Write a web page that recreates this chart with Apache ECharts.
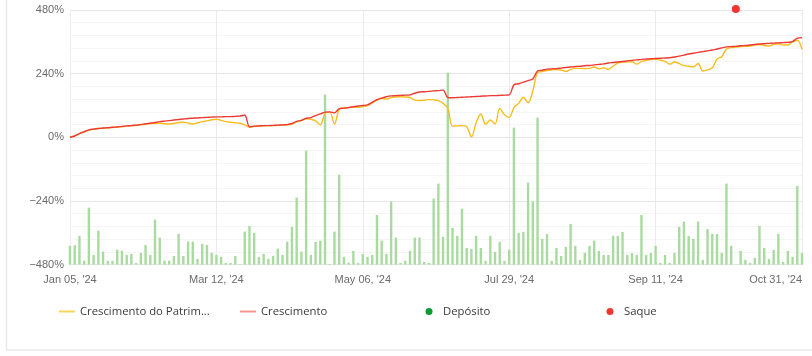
<!DOCTYPE html>
<html><head><meta charset="utf-8">
<script src="https://cdn.jsdelivr.net/npm/echarts@6/dist/echarts.min.js"></script>
<style>html,body{margin:0;padding:0;background:#fff;}#c{width:812px;height:356px;}</style>
</head><body><div id="c"></div>
<script>
const categories = [
"2024-01-05","2024-01-08","2024-01-10","2024-01-12","2024-01-15","2024-01-17","2024-01-19","2024-01-22","2024-01-24","2024-01-26",
"2024-01-29","2024-01-31","2024-02-02","2024-02-05","2024-02-07","2024-02-09","2024-02-12","2024-02-14","2024-02-16","2024-02-19",
"2024-02-21","2024-02-23","2024-02-26","2024-02-28","2024-03-01","2024-03-04","2024-03-05","2024-03-06","2024-03-07","2024-03-08",
"2024-03-11","2024-03-12","2024-03-13","2024-03-15","2024-03-18","2024-03-19","2024-03-21","2024-03-22","2024-03-25","2024-03-27",
"2024-03-28","2024-04-01","2024-04-02","2024-04-04","2024-04-05","2024-04-08","2024-04-09","2024-04-11","2024-04-12","2024-04-15",
"2024-04-16","2024-04-18","2024-04-19","2024-04-22","2024-04-23","2024-04-24","2024-04-25","2024-04-26","2024-04-29","2024-04-30",
"2024-05-02","2024-05-03","2024-05-06","2024-05-08","2024-05-10","2024-05-13","2024-05-15","2024-05-17","2024-05-20","2024-05-23",
"2024-05-27","2024-05-29","2024-05-31","2024-06-03","2024-06-05","2024-06-07","2024-06-10","2024-06-13","2024-06-17","2024-06-19",
"2024-06-21","2024-06-24","2024-06-26","2024-06-28","2024-07-02","2024-07-05","2024-07-08","2024-07-10","2024-07-12","2024-07-16",
"2024-07-19","2024-07-23","2024-07-25","2024-07-29","2024-07-30","2024-07-31","2024-08-01","2024-08-02","2024-08-05","2024-08-06",
"2024-08-07","2024-08-08","2024-08-09","2024-08-12","2024-08-13","2024-08-14","2024-08-15","2024-08-16","2024-08-19","2024-08-20",
"2024-08-21","2024-08-22","2024-08-23","2024-08-26","2024-08-27","2024-08-28","2024-08-29","2024-08-30","2024-09-02","2024-09-03",
"2024-09-04","2024-09-05","2024-09-06","2024-09-09","2024-09-11","2024-09-12","2024-09-13","2024-09-16","2024-09-17","2024-09-18",
"2024-09-19","2024-09-20","2024-09-23","2024-09-24","2024-09-25","2024-09-26","2024-09-27","2024-09-30","2024-10-01","2024-10-02",
"2024-10-03","2024-10-04","2024-10-07","2024-10-08","2024-10-09","2024-10-10","2024-10-11","2024-10-14","2024-10-16","2024-10-18",
"2024-10-21","2024-10-23","2024-10-24","2024-10-25","2024-10-28","2024-10-31"
];

// Crescimento do Patrimônio Líquido (%)
const patrimonioValues = [
0,5,14,21,27,31,33,34,36,37,
39,40,42,44,45,47,49,52,52,53,
51,50,52,56,57,54,50,55,59,62,
66,68,64,59,57,55,53,47,38,41,
42,43,44,44,45,46,47,50,58,63,
70,68,62,47,90,95,50,105,110,112,
114,113,116,120,130,140,147,144,150,152,
153,152,150,140,139,140,142,141,138,128,
110,42,43,44,40,2,55,88,49,65,
50,109,85,75,112,128,151,130,175,244,
248,252,254,255,254,248,256,260,260,259,
260,265,258,262,256,268,280,283,284,285,
276,286,290,293,294,291,286,276,284,278,
270,268,266,278,250,254,262,295,304,333,
338,340,342,343,344,348,350,346,344,350,
353,348,348,360,366,332
];

// Crescimento (%)
const crescimentoValues = [
0,5,14,21,28,31,33,35,36,38,
39,41,43,44,46,48,51,53,56,59,
61,63,65,67,69,71,72,73,74,75,
76,77,77,78,78,79,80,84,40,42,
43,44,44,45,46,47,48,52,60,64,
72,74,82,88,95,96,92,108,110,112,
115,118,120,122,132,142,148,153,156,157,
158,159,160,166,171,172,173,175,176,178,
150,149,150,151,152,153,154,155,156,157,
157,158,159,160,198,202,208,214,220,250,
253,257,258,259,261,263,265,267,268,270,
271,273,275,277,280,282,284,286,288,290,
292,294,295,296,297,298,299,300,303,306,
310,314,317,320,323,326,329,333,337,341,
342,343,345,346,348,350,352,353,354,355,
356,357,358,361,374,376
];

// daily activity bars (relative units)
const volumeValues = [
18.7,19.3,28.7,4,57,9.7,34,13,3.7,3.7,
15,14,9.7,10.7,1.7,11.7,19.7,9.7,45,27,
4,4,8.7,30.7,8.7,23,23,5.7,20.7,19.7,
11.7,9.7,7.7,1.7,1.7,8.7,0.7,33,38.7,31.7,
7.7,10.7,5.7,8.7,16,9.7,23,37.7,67,13,
114,9.7,22.7,24,170,0.7,33,90,7.7,2,
13.7,1.7,10.7,7.7,9.7,49.7,24,10.7,63,27,
1.7,4,13.7,27,27,2.7,1.7,66,81,27.7,
192,36.7,28.7,56,16.7,15.7,28.7,16.7,3.7,28.7,
12.7,22.7,3.7,15,137,31.7,32.7,82,63,147,
25.7,30.7,3.7,16.7,8.7,17.7,40.7,18.7,4.7,11.7,
18.7,24,13.7,9.7,9.7,28.7,28.7,32.7,9.7,11.7,
9.7,49.7,9.7,11.7,18.7,1.7,9.7,1.7,11.7,37.7,
43,28.7,25.7,43,4.7,35.7,30.7,30.7,11.7,81,
18.7,0,13.7,4.7,1.7,6.7,38.7,16.7,5.7,14.7,
30.7,2.7,13.7,7.7,78.7,11.7
];

const depositoPoints = [];
const saquePoints = [["2024-10-04", 484]];

const yTicks = [-480, -240, 0, 240, 480];
const seriesNames = ["Crescimento do Patrimônio Líquido", "Crescimento", "Depósito", "Saque"];
const monthNames = ["Jan","Feb","Mar","Apr","May","Jun","Jul","Aug","Sep","Oct","Nov","Dec"];

function fmtDate(s) {
  const p = s.split("-");
  return monthNames[parseInt(p[1], 10) - 1] + " " + p[2] + ", '" + p[0].slice(2);
}

const chart = echarts.init(document.getElementById('c'), null, {renderer: 'canvas'});
const axisFont = {color: '#6b6b6b', fontSize: 11, fontFamily: 'Liberation Sans, Arial, sans-serif'};
const legendText = {color: '#3a3a3a', fontSize: 11.3, fontFamily: 'Open Sans, sans-serif'};

chart.setOption({
  animation: false,
  backgroundColor: '#ffffff',
  grid: {left: 70, right: 10, top: 10, bottom: 91.4, containLabel: false, outerBoundsMode: 'none'},
  xAxis: {
    type: 'category', data: categories, boundaryGap: false,
    axisLine: {show: false}, axisTick: {show: false},
    axisLabel: Object.assign({interval: 30, margin: 10, alignMaxLabel: 'right', formatter: fmtDate}, axisFont),
    splitLine: {show: true, interval: 30, lineStyle: {color: '#ebebeb', width: 1}}
  },
  yAxis: [{
    type: 'value', min: yTicks[0], max: yTicks[yTicks.length - 1], interval: yTicks[1] - yTicks[0],
    axisLine: {show: false}, axisTick: {show: false},
    axisLabel: Object.assign({margin: 6, formatter: v => String(v).replace('-', '\u2212') + '%'}, axisFont),
    splitLine: {show: true, lineStyle: {color: '#e6e6e6', width: 1}},
    minorTick: {show: false, splitNumber: 5},
    minorSplitLine: {show: true, lineStyle: {color: '#f5f5f5', width: 1}}
  }, {
    type: 'value', min: 0, max: 254.6, show: false, splitLine: {show: false}
  }],
  legend: [
    {left: 59, top: 306, padding: 0, itemWidth: 16, itemHeight: 2,
     data: [{name: seriesNames[0], icon: 'rect', itemStyle: {color: '#fdd35c'}}],
     textStyle: Object.assign({width: 133, overflow: 'truncate'}, legendText)},
    {left: 240, top: 306, padding: 0, itemWidth: 16, itemHeight: 2,
     data: [{name: seriesNames[1], icon: 'rect', itemStyle: {color: '#f39590'}}],
     textStyle: legendText},
    {left: 425.5, top: 306, padding: 0, itemWidth: 18, itemHeight: 7,
     data: [{name: seriesNames[2], icon: 'circle', itemStyle: {color: '#0a9c30', opacity: 1}}],
     textStyle: legendText},
    {left: 606.5, top: 306, padding: 0, itemWidth: 18, itemHeight: 7,
     data: [{name: seriesNames[3], icon: 'circle', itemStyle: {color: '#ee3630', opacity: 1}}],
     textStyle: legendText}
  ],
  graphic: [
    {type: 'polyline', silent: true, shape: {points: [[6.5, -2], [6.5, 350], [814, 350]]},
     style: {stroke: '#e9e9e9', lineWidth: 1.5, fill: null}}
  ],
  series: [
    {type: 'bar', name: 'Volume', yAxisIndex: 1, data: volumeValues, barWidth: 2.4,
     itemStyle: {color: '#a9dba0'}, silent: true, z: 1},
    {type: 'line', name: seriesNames[0], data: patrimonioValues, smooth: 0.35, symbol: 'none',
     lineStyle: {color: '#f7bd1f', width: 1.4}, itemStyle: {color: '#f7bd1f'}, z: 3},
    {type: 'line', name: seriesNames[1], data: crescimentoValues, smooth: 0.3, symbol: 'none',
     lineStyle: {color: '#ec3a35', width: 1.4}, itemStyle: {color: '#ec3a35'}, z: 4},
    {type: 'scatter', name: seriesNames[2], data: depositoPoints, symbolSize: 8,
     itemStyle: {color: '#0a9c30', opacity: 1}, z: 5},
    {type: 'scatter', name: seriesNames[3], data: saquePoints, symbolSize: 8, clip: false,
     itemStyle: {color: '#ee3630', opacity: 1}, z: 5}
  ]
});
</script>
</body></html>
